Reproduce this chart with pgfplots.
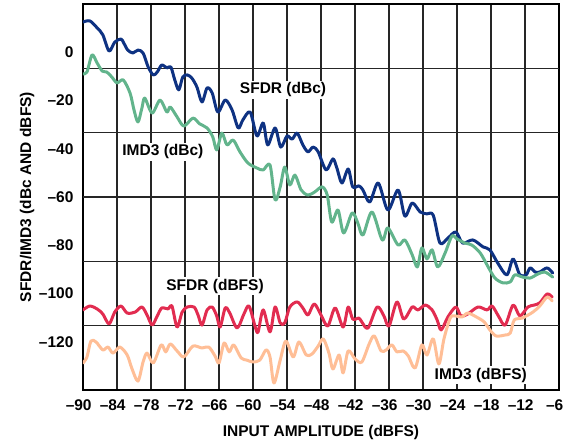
\documentclass[border=0pt]{standalone}
\usepackage{fontspec}
\setmainfont{Liberation Sans}
\usepackage{pgfplots}
\pgfplotsset{compat=1.18}
\definecolor{navyc}{RGB}{14,50,130}
\definecolor{greenc}{RGB}{98,180,140}
\definecolor{redc}{RGB}{226,44,80}
\definecolor{peachc}{RGB}{255,190,150}
\newcommand{\lf}{\fontsize{15.5}{17}\selectfont\bfseries}
\begin{document}
\begin{tikzpicture}
\path[use as bounding box] (-83pt,-52pt) rectangle (491pt,390pt);
\begin{axis}[
  at={(0,0)}, anchor=south west,
  scale only axis, width=476pt, height=386pt,
  xmin=-90, xmax=-6, ymin=-140, ymax=20,
  xtick={-90,-84,-78,-72,-66,-60,-54,-48,-42,-36,-30,-24,-18,-12,-6},
  xticklabels={{\llap{--}90},{\llap{--}84},{\llap{--}78},{\llap{--}72},{\llap{--}66},{\llap{--}60},{\llap{--}54},{\llap{--}48},{\llap{--}42},{\llap{--}36},{\llap{--}30},{\llap{--}24},{\llap{--}18},{\llap{--}12},{\llap{--}6}},
  ytick={-120,-100,-80,-60,-40,-20,0},
  yticklabels={{--120},{--100},{--80},{--60},{--40},{--20},0},
  xmajorgrids=true, ymajorgrids=false,
  extra y ticks={-113.333,-86.667,-60,-33.333,-6.667},
  extra y tick labels={},
  extra y tick style={grid=major},
  major tick length=0pt,
  axis line style={line width=2pt, black},
  grid style={line width=1.3pt, black!85},
  tick label style={font=\lf},
  xticklabel shift=6pt,
  yticklabel shift=6pt,
  every axis y label/.style={at={(axis description cs:-0.1176,0.5)}, rotate=90, anchor=center, font=\lf},
  every axis x label/.style={at={(axis description cs:0.5,-0.109)}, anchor=center, font=\lf},
  ylabel={SFDR/IMD3 (dBc AND dBFS)},
  xlabel={INPUT AMPLITUDE (dBFS)},
  every axis plot/.append style={line width=3pt, smooth, tension=0.5, line join=round, line cap=round},
]
% SFDR (dBc)
\addplot[navyc] coordinates {
(-90.0,12.5) (-88.8,13.0) (-87.5,10.1) (-86.5,7.2) (-85.4,0.5) (-84.4,4.2) (-83.3,5.5) (-82.8,3.8)
(-82.1,0.9) (-81.2,-0.3) (-80.3,0.9) (-79.4,-0.3) (-78.5,-6.1) (-77.6,-9.4) (-76.9,-8.2) (-76.1,-5.3)
(-75.2,-6.5) (-74.5,-6.1) (-73.8,-11.5) (-73.1,-15.6) (-72.4,-10.3) (-71.6,-9.4) (-70.8,-10.7) (-69.9,-14.4)
(-69.0,-20.6) (-68.1,-14.8) (-67.2,-16.9) (-66.2,-24.8) (-64.9,-19.8) (-63.7,-23.9) (-62.6,-31.4) (-61.8,-28.1)
(-60.5,-24.8) (-59.3,-34.7) (-58.2,-29.3) (-57.4,-38.4) (-56.1,-31.4) (-55.1,-39.3) (-54.0,-34.7) (-53.1,-36.0)
(-52.2,-33.5) (-51.2,-38.4) (-50.3,-41.3) (-49.4,-39.3) (-48.5,-41.3) (-47.1,-48.8) (-45.9,-44.2) (-45.2,-48.0)
(-44.3,-54.2) (-43.2,-48.4) (-42.4,-55.8) (-41.3,-55.4) (-40.6,-57.1) (-39.4,-62.1) (-37.9,-54.2) (-36.2,-65.4)
(-34.4,-57.1) (-33.2,-67.9) (-31.9,-62.5) (-30.5,-66.2) (-29.3,-67.0) (-28.2,-67.5) (-27.0,-79.1) (-25.6,-77.0)
(-24.2,-74.5) (-23.0,-79.1) (-21.2,-77.8) (-19.4,-80.7) (-18.2,-81.9) (-16.8,-87.4) (-15.2,-92.3) (-14.1,-85.7)
(-12.9,-92.3) (-11.8,-92.3) (-11.1,-89.4) (-10.2,-91.1) (-9.4,-91.1) (-8.1,-89.4) (-7.1,-91.5)
};
% IMD3 (dBc)
\addplot[greenc] coordinates {
(-90.0,-9.0) (-89.3,-8.2) (-88.4,-1.1) (-87.5,-4.5) (-86.6,-7.8) (-85.8,-8.2) (-84.9,-10.3) (-84.0,-12.7)
(-82.9,-11.5) (-81.7,-16.9) (-81.0,-23.9) (-80.3,-28.9) (-79.6,-23.1) (-79.1,-19.0) (-77.8,-25.2) (-76.4,-19.8)
(-75.2,-24.8) (-74.6,-22.7) (-73.4,-26.8) (-72.2,-30.6) (-70.6,-27.3) (-69.4,-29.7) (-68.1,-31.4) (-67.1,-35.1)
(-66.4,-40.5) (-65.5,-33.5) (-64.6,-38.4) (-63.5,-36.4) (-62.3,-41.3) (-60.9,-45.9) (-59.3,-48.0) (-58.2,-48.8)
(-57.0,-46.7) (-56.1,-61.2) (-55.2,-55.8) (-54.4,-47.6) (-53.5,-55.0) (-52.6,-50.9) (-51.5,-57.1) (-50.3,-59.2)
(-49.1,-57.9) (-47.8,-55.8) (-46.9,-59.2) (-46.1,-70.4) (-45.0,-65.4) (-44.0,-74.9) (-42.5,-66.6) (-41.5,-70.8)
(-40.6,-75.8) (-39.0,-66.2) (-37.2,-77.8) (-36.2,-72.8) (-34.4,-79.9) (-33.2,-77.8) (-31.9,-84.0) (-31.0,-89.0)
(-30.2,-81.1) (-29.3,-85.7) (-28.4,-81.9) (-27.4,-89.0) (-26.1,-83.2) (-24.9,-76.2) (-24.0,-77.4) (-22.6,-79.1)
(-21.4,-79.9) (-19.9,-83.2) (-18.5,-89.0) (-17.3,-93.6) (-15.9,-95.6) (-14.6,-95.2) (-13.8,-92.3) (-12.4,-93.2)
(-11.1,-93.6) (-9.7,-91.9) (-8.5,-91.1) (-7.1,-93.2)
};
% SFDR (dBFS)
\addplot[redc] coordinates {
(-90.0,-106.8) (-88.8,-105.2) (-87.5,-106.4) (-86.5,-108.5) (-85.4,-112.6) (-84.4,-107.7) (-83.3,-105.2) (-82.2,-108.1)
(-80.8,-107.7) (-79.6,-105.6) (-78.7,-108.9) (-77.8,-113.1) (-76.9,-109.3) (-76.1,-106.0) (-75.0,-106.4) (-74.3,-105.2)
(-73.4,-113.9) (-72.5,-107.7) (-71.6,-105.6) (-70.4,-105.6) (-69.7,-108.9) (-69.0,-113.1) (-68.1,-106.8) (-67.2,-105.6)
(-66.4,-109.3) (-65.8,-113.9) (-64.9,-106.0) (-64.1,-108.1) (-62.8,-114.3) (-61.6,-108.5) (-60.7,-105.2) (-59.6,-113.9)
(-59.1,-115.9) (-58.2,-106.8) (-57.0,-115.9) (-56.1,-105.6) (-55.2,-112.2) (-54.4,-112.2) (-53.5,-105.6) (-52.2,-103.5)
(-51.2,-106.0) (-50.3,-108.9) (-49.2,-104.3) (-48.0,-108.9) (-46.8,-113.5) (-45.5,-106.0) (-44.1,-113.9) (-43.2,-105.6)
(-42.4,-110.6) (-41.3,-110.2) (-40.8,-111.8) (-39.7,-114.3) (-38.1,-105.6) (-36.9,-109.3) (-36.0,-113.5) (-34.6,-103.5)
(-33.4,-110.6) (-31.9,-105.6) (-30.9,-106.8) (-29.6,-104.8) (-28.4,-106.8) (-27.5,-111.0) (-26.8,-115.1) (-25.6,-109.7)
(-24.2,-105.6) (-23.3,-109.3) (-22.1,-108.5) (-20.3,-105.6) (-18.7,-106.8) (-17.8,-105.2) (-16.6,-109.7) (-15.5,-113.1)
(-14.1,-104.8) (-12.9,-109.3) (-11.5,-105.6) (-10.4,-104.8) (-9.4,-103.9) (-8.1,-100.2) (-7.2,-101.5)
};
% IMD3 (dBFS)
\addplot[peachc] coordinates {
(-90.0,-128.8) (-89.3,-126.3) (-88.6,-119.7) (-87.7,-120.1) (-86.5,-123.4) (-85.6,-122.2) (-84.7,-124.7) (-83.5,-122.2)
(-82.2,-125.5) (-81.4,-130.9) (-80.3,-136.3) (-79.4,-128.4) (-78.7,-124.7) (-77.6,-128.8) (-76.2,-121.3) (-75.4,-124.2)
(-74.6,-120.9) (-73.4,-123.8) (-72.2,-126.3) (-70.6,-121.8) (-69.0,-122.6) (-67.8,-122.2) (-66.7,-125.9) (-66.0,-128.8)
(-65.1,-120.5) (-64.2,-124.2) (-63.4,-121.3) (-62.1,-126.7) (-61.1,-127.6) (-60.0,-128.4) (-58.8,-127.6) (-57.7,-123.4)
(-57.0,-126.3) (-56.3,-137.1) (-55.2,-127.6) (-54.2,-119.7) (-52.9,-126.3) (-51.9,-120.1) (-50.6,-125.5) (-49.6,-125.1)
(-48.5,-121.8) (-47.6,-118.8) (-46.6,-124.7) (-45.9,-131.3) (-44.8,-125.5) (-44.1,-132.9) (-43.2,-123.8) (-42.0,-127.1)
(-40.8,-128.4) (-39.5,-120.9) (-38.6,-117.6) (-37.4,-123.8) (-36.5,-123.4) (-35.5,-121.3) (-34.6,-124.2) (-33.5,-123.8)
(-32.6,-125.9) (-31.4,-130.9) (-30.2,-121.3) (-29.3,-125.5) (-28.2,-118.8) (-27.2,-129.2) (-26.3,-118.8) (-25.2,-110.2)
(-24.4,-109.3) (-23.1,-109.7) (-22.1,-108.1) (-20.6,-109.7) (-19.2,-111.8) (-18.2,-115.1) (-17.1,-117.6) (-15.5,-117.2)
(-14.6,-116.4) (-13.9,-111.0) (-12.5,-110.2) (-10.6,-107.7) (-9.4,-105.2) (-8.1,-101.5) (-7.2,-103.1)
};
\node[fill=white, inner sep=1.5pt, font=\lf] at (axis cs:-54.7,-15.6) {SFDR (dBc)};
\node[fill=white, inner sep=1.5pt, font=\lf] at (axis cs:-75.9,-41.3) {IMD3 (dBc)};
\node[fill=white, inner sep=1.5pt, font=\lf] at (axis cs:-66.7,-96.9) {SFDR (dBFS)};
\node[fill=white, inner sep=1.5pt, font=\lf] at (axis cs:-19.8,-133.8) {IMD3 (dBFS)};
\end{axis}
\end{tikzpicture}
\end{document}
